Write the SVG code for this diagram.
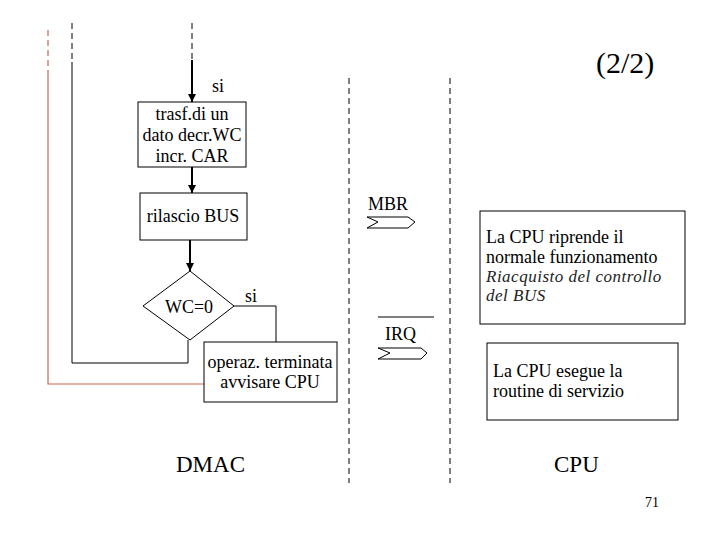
<svg xmlns="http://www.w3.org/2000/svg" width="720" height="540" viewBox="0 0 720 540" font-family="'Liberation Serif', 'Times New Roman', 'DejaVu Serif', serif">
<defs>
<style>
text{font-family:'Liberation Serif','Times New Roman','DejaVu Serif',serif;font-size:18px;fill:#000}
.box{fill:#fff;stroke:#000;stroke-width:1}
.ln{fill:none;stroke:#000;stroke-width:1}
.thick{fill:none;stroke:#000;stroke-width:2}
.dash{fill:none;stroke:#000;stroke-width:1;stroke-dasharray:6 4}
.or{fill:none;stroke:#c46a50;stroke-width:1.2}
.ordash{fill:none;stroke:#c46a50;stroke-width:1.2;stroke-dasharray:6 4}
.chev{fill:#fff;stroke:#000;stroke-width:1}
.it{font-style:italic;font-size:17px;letter-spacing:0.5px;fill:#222}
</style>
<marker id="ah" viewBox="0 0 10 10" refX="10" refY="5" markerWidth="4" markerHeight="4" orient="auto">
<path d="M0,0 L10,5 L0,10 z" fill="#000"/>
</marker>
</defs>
<rect width="720" height="540" fill="#fff"/>

<g id="lanes">
<line class="dash" x1="349" y1="78" x2="349" y2="483"/>
<line class="dash" x1="450" y1="78" x2="450" y2="483"/>
</g>

<g id="connectors">
<line class="ordash" x1="48" y1="30" x2="48" y2="70"/>
<polyline class="or" points="48,70 48,384 204,384"/>
<line class="dash" x1="72" y1="23" x2="72" y2="62"/>
<polyline class="ln" points="72,62 72,363 188,363 188,340"/>
<line class="dash" x1="192" y1="23" x2="192" y2="60"/>
<line class="thick" x1="192" y1="60" x2="192" y2="102" marker-end="url(#ah)"/>
<line class="thick" x1="192" y1="167" x2="192" y2="193" marker-end="url(#ah)"/>
<line class="thick" x1="190" y1="240" x2="190" y2="271" marker-end="url(#ah)"/>
<polyline class="ln" points="234,306 276,306 276,342"/>
<text x="212" y="92">si</text>
<text x="245" y="302">si</text>
</g>

<g id="n-trasf">
<rect class="box" x="138" y="102" width="108" height="65"/>
<text x="192" y="120" text-anchor="middle">trasf.di un</text>
<text x="192" y="141" text-anchor="middle">dato decr.WC</text>
<text x="192" y="162" text-anchor="middle">incr. CAR</text>
</g>

<g id="n-rilascio">
<rect class="box" x="140" y="193" width="107" height="47"/>
<text x="193" y="222" text-anchor="middle">rilascio BUS</text>
</g>

<g id="n-wc">
<polygon class="box" points="190,271 234,306 190,340 143,306"/>
<text x="189" y="313" text-anchor="middle">WC=0</text>
</g>

<g id="n-operaz">
<rect class="box" x="204" y="342" width="133" height="60"/>
<text x="270" y="368" text-anchor="middle">operaz. terminata</text>
<text x="270" y="388" text-anchor="middle">avvisare CPU</text>
</g>

<g id="sig-mbr">
<text x="368" y="210">MBR</text>
<polygon class="chev" points="367,217 408,217 415,222 408,228 367,228 378,222"/>
</g>

<g id="sig-irq">
<line class="ln" x1="378" y1="317" x2="434" y2="317"/>
<text x="385" y="340">IRQ</text>
<polygon class="chev" points="378,348 421,348 427,353 421,359 378,359 390,353"/>
</g>

<g id="n-riprende">
<rect class="box" x="480" y="211" width="205" height="113"/>
<text x="486" y="243">La CPU riprende il</text>
<text x="486" y="263">normale funzionamento</text>
<text class="it" x="486" y="282">Riacquisto del controllo</text>
<text class="it" x="486" y="301">del BUS</text>
</g>

<g id="n-esegue">
<rect class="box" x="487" y="343" width="191" height="77"/>
<text x="493" y="377">La CPU esegue la</text>
<text x="493" y="397">routine di servizio</text>
</g>

<g id="labels">
<text x="596" y="73" style="font-size:30px">(2/2)</text>
<text x="176" y="472" style="font-size:23px">DMAC</text>
<text x="554" y="472" style="font-size:23px">CPU</text>
<text x="645" y="507" style="font-size:14px">71</text>
</g>
</svg>
